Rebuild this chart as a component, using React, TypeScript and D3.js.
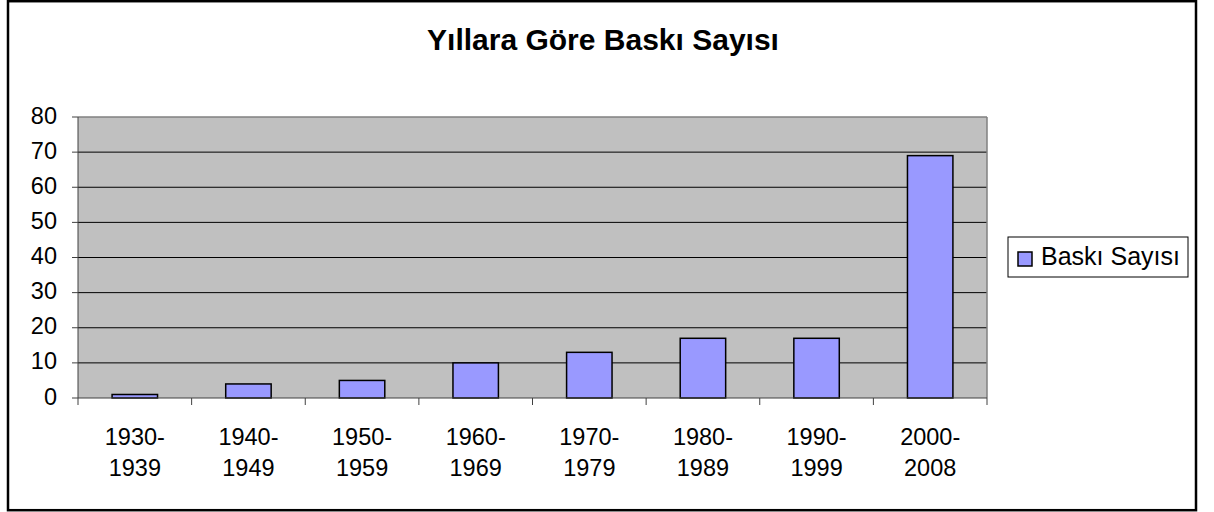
import React from "react";
import * as d3 from "d3";

const categories = ["1930-1939", "1940-1949", "1950-1959", "1960-1969", "1970-1979", "1980-1989", "1990-1999", "2000-2008"];
const values = [1, 4, 5, 10, 13, 17, 17, 69];
const yTicks = [0, 10, 20, 30, 40, 50, 60, 70, 80];
const title = "Yıllara Göre Baskı Sayısı";
const seriesName = "Baskı Sayısı";

const W = 1214;
const H = 512;
const plot = { left: 78, right: 987, top: 117, bottom: 398 };
const font = "Arial, 'Liberation Sans', sans-serif";

export default function App() {
  const x = d3.scaleBand<string>().domain(categories).range([plot.left, plot.right]).paddingInner(0.6).paddingOuter(0.3);
  const xb = d3.scaleBand<string>().domain(categories).range([plot.left, plot.right]);
  const y = d3.scaleLinear().domain([0, 80]).range([plot.bottom, plot.top]);
  const bounds = categories.map((c) => xb(c) as number).concat([plot.right]);

  return (
    <svg width={W} height={H} style={{ position: "absolute", left: 0, top: 0, background: "#fff" }} fontFamily={font}>
      <rect x={8} y={1.2} width={1188} height={509} fill="#fff" stroke="#000" strokeWidth={2.5} />
      <text x={603} y={50} textAnchor="middle" fontSize={30} fontWeight="bold">{title}</text>
      <rect x={plot.left} y={plot.top} width={plot.right - plot.left} height={plot.bottom - plot.top} fill="#C0C0C0" />
      {yTicks.filter((t) => t > 0 && t < 80).map((t) => (
        <line key={t} x1={plot.left} x2={plot.right} y1={y(t)} y2={y(t)} stroke="#000" strokeWidth={1} />
      ))}
      <line x1={plot.left} x2={plot.right} y1={plot.top} y2={plot.top} stroke="#808080" strokeWidth={1.5} />
      <line x1={plot.right} x2={plot.right} y1={plot.top} y2={plot.bottom} stroke="#808080" strokeWidth={1.5} />
      {categories.map((c, i) => (
        <rect key={c} x={x(c)} y={y(values[i])} width={x.bandwidth()} height={plot.bottom - y(values[i])} fill="#9999FF" stroke="#000" strokeWidth={1.5} />
      ))}
      <line x1={plot.left} x2={plot.left} y1={plot.top} y2={plot.bottom} stroke="#404040" strokeWidth={1} />
      <line x1={plot.left} x2={plot.right} y1={plot.bottom} y2={plot.bottom} stroke="#404040" strokeWidth={1} />
      {yTicks.map((t) => (
        <g key={t}>
          <line x1={plot.left - 6} x2={plot.left} y1={y(t)} y2={y(t)} stroke="#404040" strokeWidth={1} />
          <text x={57} y={y(t)} dy={6.5} textAnchor="end" fontSize={23.5}>{t}</text>
        </g>
      ))}
      {bounds.map((b, i) => (
        <line key={i} x1={b} x2={b} y1={plot.bottom} y2={plot.bottom + 7} stroke="#404040" strokeWidth={1} />
      ))}
      {categories.map((c) => {
        const [a, b] = c.split("-");
        const cx = (xb(c) as number) + xb.bandwidth() / 2;
        return (
          <text key={c} x={cx} textAnchor="middle" fontSize={23.5}>
            <tspan x={cx} y={445}>{a + "-"}</tspan>
            <tspan x={cx} y={476}>{b}</tspan>
          </text>
        );
      })}
      <rect x={1008} y={237} width={180} height={40} fill="#fff" stroke="#000" strokeWidth={1} />
      <rect x={1018} y={252} width={14} height={14} fill="#9999FF" stroke="#000" strokeWidth={1.5} />
      <text x={1041} y={265} fontSize={25}>{seriesName}</text>
    </svg>
  );
}
